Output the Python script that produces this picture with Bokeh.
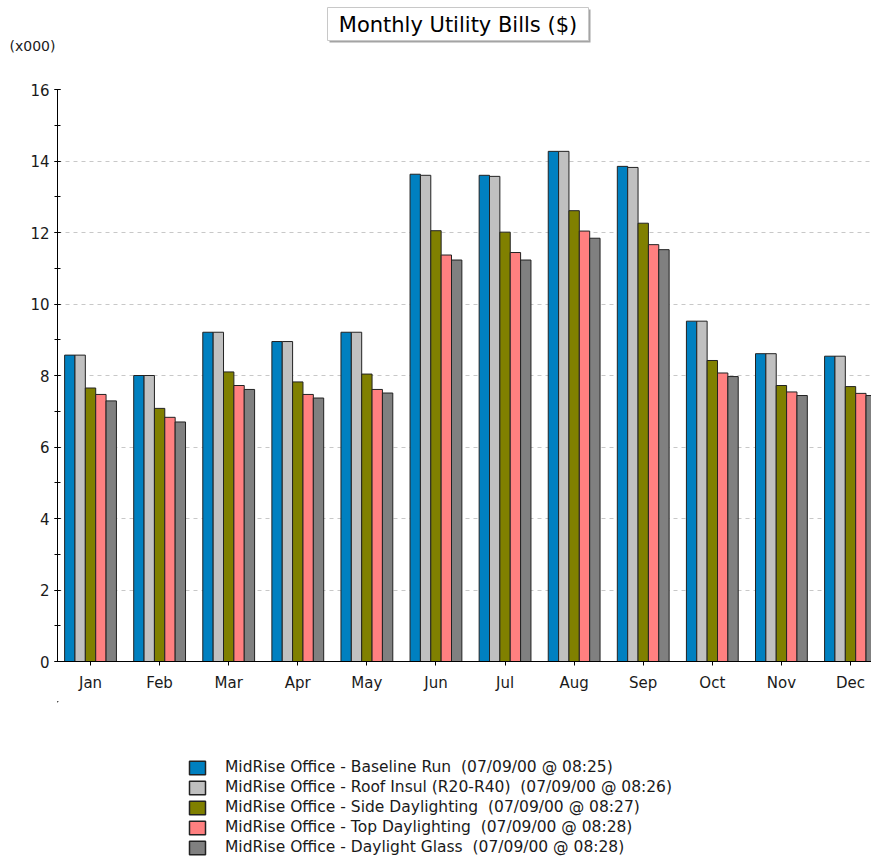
from bokeh.plotting import figure
from bokeh.layouts import column
from bokeh.models import (FixedTicker, SingleIntervalTicker, Legend, LegendItem,
                          Label, Range1d, LinearAxis)
from bokeh.embed import file_html
from bokeh.resources import INLINE
import numpy as np

months = ["Jan", "Feb", "Mar", "Apr", "May", "Jun",
          "Jul", "Aug", "Sep", "Oct", "Nov", "Dec"]

series_names = [
    "MidRise Office - Baseline Run  (07/09/00 @ 08:25)",
    "MidRise Office - Roof Insul (R20-R40)  (07/09/00 @ 08:26)",
    "MidRise Office - Side Daylighting  (07/09/00 @ 08:27)",
    "MidRise Office - Top Daylighting  (07/09/00 @ 08:28)",
    "MidRise Office - Daylight Glass  (07/09/00 @ 08:28)",
]

baseline_run = [8.57, 8.00, 9.21, 8.95, 9.21, 13.63, 13.60, 14.27, 13.85, 9.52, 8.61, 8.54]
roof_insul = [8.57, 8.00, 9.21, 8.95, 9.21, 13.60, 13.57, 14.27, 13.82, 9.52, 8.61, 8.54]
side_daylighting = [7.65, 7.08, 8.10, 7.82, 8.04, 12.05, 12.01, 12.61, 12.26, 8.42, 7.72, 7.69]
top_daylighting = [7.47, 6.83, 7.72, 7.47, 7.61, 11.37, 11.44, 12.04, 11.66, 8.07, 7.54, 7.50]
daylight_glass = [7.29, 6.70, 7.61, 7.37, 7.51, 11.23, 11.23, 11.84, 11.52, 7.97, 7.44, 7.44]

series_values = [baseline_run, roof_insul, side_daylighting, top_daylighting, daylight_glass]
colors = ["#0080C0", "#C0C0C0", "#808000", "#FF8080", "#808080"]

title_text = "Monthly Utility Bills ($)"
unit_text = "(x000)"

FONT = "DejaVu Sans"
TXT = "#1a1a1a"
W = 871
LEFT = 57          # frame left edge (shared by all stacked figures)
TOP_H = 81
MAIN_H = 620
LEG_H = 857 - TOP_H - MAIN_H


def blank(height):
    f = figure(width=W, height=height, output_backend="svg", toolbar_location=None,
               x_axis_type=None, y_axis_type=None,
               x_range=Range1d(LEFT, W), y_range=Range1d(height, 0),
               min_border_left=LEFT, min_border_right=0,
               min_border_top=0, min_border_bottom=0)
    f.outline_line_color = None
    f.xgrid.visible = False
    f.ygrid.visible = False
    return f


# ---- header (title box + unit label) ----
top = blank(TOP_H)
top.quad(left=[329], right=[590], top=[9], bottom=[42],
         fill_color="#a4a4a4", line_color=None)
top.quad(left=[327], right=[588], top=[7], bottom=[40],
         fill_color="white", line_color="#c8c8c8", line_width=1)
top.add_layout(Label(x=457.5, y=24, text=title_text, text_font=FONT,
                     text_font_size="21px", text_align="center",
                     text_baseline="middle", text_color="black"))
unit_axis = LinearAxis(ticker=FixedTicker(ticks=[45]),
                       major_label_overrides={45: unit_text})
unit_axis.axis_line_color = None
unit_axis.major_tick_line_color = None
unit_axis.minor_tick_line_color = None
unit_axis.major_tick_in = 0
unit_axis.major_tick_out = 0
unit_axis.major_label_standoff = 2
unit_axis.major_label_text_font = FONT
unit_axis.major_label_text_font_size = "14px"
unit_axis.major_label_text_color = TXT
top.add_layout(unit_axis, "left")

# ---- main chart ----
p = figure(width=W, height=MAIN_H, output_backend="svg", toolbar_location=None,
           x_range=Range1d(-0.478, 11.304), y_range=Range1d(0, 16),
           min_border_left=LEFT, min_border_right=0, min_border_top=8,
           min_border_bottom=40)
p.outline_line_color = None

idx = np.arange(len(months))
bar_w = 0.15
offsets = [-0.3, -0.15, 0.0, 0.15, 0.3]

for vals, col, off in zip(series_values, colors, offsets):
    p.vbar(x=idx + off, top=vals, width=bar_w, bottom=0,
           fill_color=col, line_color="#222222", line_width=1)

p.xaxis.ticker = FixedTicker(ticks=list(idx))
p.xaxis.major_label_overrides = {int(i): m for i, m in zip(idx, months)}
p.xaxis.minor_tick_line_color = None
p.xaxis.major_tick_in = 0
p.xaxis.major_tick_out = 4
p.xaxis.major_label_standoff = 8
p.yaxis.ticker = SingleIntervalTicker(interval=2, num_minor_ticks=2)
p.yaxis.major_tick_in = 3
p.yaxis.major_tick_out = 3
p.yaxis.minor_tick_in = 3
p.yaxis.minor_tick_out = 3
p.yaxis.major_label_standoff = 5
for ax in (p.xaxis, p.yaxis):
    ax.axis_line_color = "black"
    ax.major_tick_line_color = "black"
    ax.major_label_text_font = FONT
    ax.major_label_text_font_size = "15px"
    ax.major_label_text_color = TXT
p.yaxis.minor_tick_line_color = "black"

p.xgrid.grid_line_color = None
p.ygrid.grid_line_color = "#c8c8c8"
p.ygrid.grid_line_dash = "4 4"

# ---- legend (proxy renderers lie far outside the visible range) ----
leg = blank(LEG_H)
items = []
for name, col in zip(series_names, colors):
    r = leg.vbar(x=[-5000], top=[-5000], bottom=[-5010], width=1, fill_color=col,
                 line_color="#222222", line_width=1.5)
    items.append(LegendItem(label=name, renderers=[r]))
legend = Legend(items=items, location=(187 - LEFT, 1), orientation="vertical",
                padding=0, border_line_color=None, background_fill_alpha=0,
                glyph_width=20, glyph_height=17, label_height=17, spacing=2,
                label_standoff=18, label_text_font=FONT,
                label_text_font_size="15.5px", label_text_color=TXT, margin=0)
leg.add_layout(legend)

layout = column(top, p, leg, spacing=0)
open("out.html", "w").write(file_html(layout, INLINE))
